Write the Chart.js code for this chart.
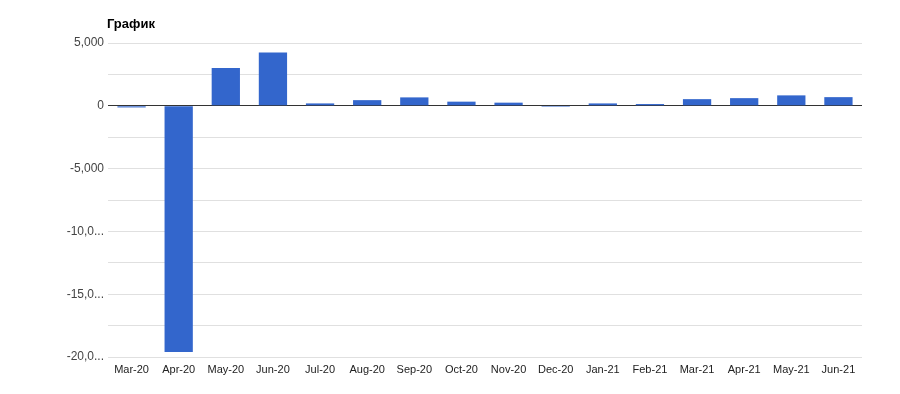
<!DOCTYPE html>
<html>
<head>
<meta charset="utf-8">
<script src="https://cdn.jsdelivr.net/npm/chart.js@4/dist/chart.umd.min.js"></script>
<style>
  html, body { margin: 0; padding: 0; background: #fff; }
  #wrap { width: 900px; height: 394px; position: relative; }
</style>
</head>
<body>
<div id="wrap"><canvas id="chart" width="900" height="394"></canvas></div>
<script>
const months = ['Mar-20', 'Apr-20', 'May-20', 'Jun-20', 'Jul-20', 'Aug-20', 'Sep-20', 'Oct-20',
  'Nov-20', 'Dec-20', 'Jan-21', 'Feb-21', 'Mar-21', 'Apr-21', 'May-21', 'Jun-21'];
const values = [-130, -19600, 3000, 4250, 190, 450, 670, 330,
  250, -80, 190, 140, 530, 610, 830, 690];
const yTicks = [5000, 0, -5000, -10000, -15000, -20000];
const chartTitle = 'График';

const titlePlugin = {
  id: 'leftTitle',
  afterDraw(chart) {
    const ctx = chart.ctx;
    ctx.save();
    ctx.font = 'bold 13px Arial, "Liberation Sans", sans-serif';
    ctx.fillStyle = '#000';
    ctx.textBaseline = 'middle';
    ctx.textAlign = 'left';
    ctx.fillText(chartTitle, chart.chartArea.left - 1, 24);
    ctx.restore();
  }
};

const fmt = v => {
  let s = v.toLocaleString('en-US');
  if (s.length > 6) s = s.slice(0, 5) + '...';
  return s;
};

new Chart(document.getElementById('chart'), {
  type: 'bar',
  data: {
    labels: months,
    datasets: [{
      data: values,
      backgroundColor: '#3366cc',
      categoryPercentage: 0.6,
      barPercentage: 1
    }]
  },
  plugins: [titlePlugin],
  options: {
    responsive: false,
    animation: false,
    layout: { padding: { top: 43, right: 38, left: 0, bottom: 0 } },
    plugins: { legend: { display: false }, tooltip: { enabled: false } },
    scales: {
      x: {
        grid: { display: false, drawTicks: false },
        border: { display: false },
        ticks: { color: '#222', font: { family: 'Arial, "Liberation Sans", sans-serif', size: 11 }, padding: 6, maxRotation: 0, autoSkip: false },
        afterFit(scale) { scale.height = 37; }
      },
      y: {
        min: -20000,
        max: 5000,
        grid: {
          drawTicks: false,
          color: ctx => ctx.tick && ctx.tick.value === 0 ? '#333' : '#e0e0e0',
          lineWidth: 1
        },
        border: { display: false },
        ticks: {
          stepSize: 2500,
          color: '#444',
          padding: 4,
          font: { family: 'Arial, "Liberation Sans", sans-serif', size: 12 },
          callback: v => yTicks.includes(v) ? fmt(v) : ''
        },
        afterFit(scale) { scale.width = 108; }
      }
    }
  }
});
</script>
</body>
</html>
